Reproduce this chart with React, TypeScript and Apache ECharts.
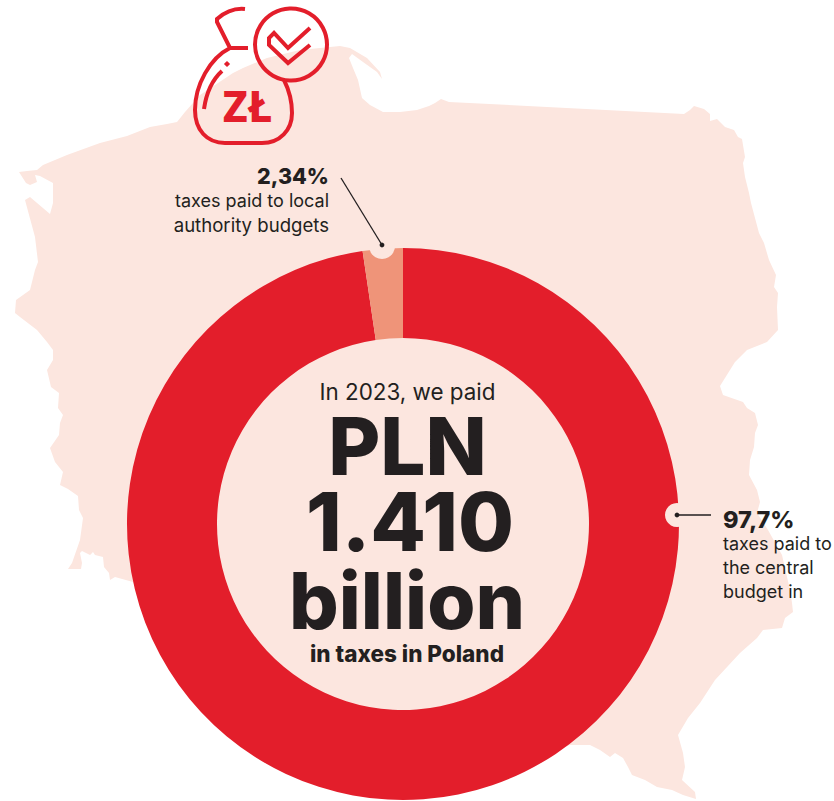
import React, { useEffect, useRef } from "react";
import * as echarts from "echarts";

const categories = ["taxes paid to the central budget in", "taxes paid to local authority budgets"];
const shares = [97.66, 2.34];
const shareLabels = ["97,7%", "2,34%"];
const rightNote = ["taxes paid to", "the central", "budget in"];
const leftNote = ["taxes paid to local", "authority budgets"];
const centerLines = ["In 2023, we paid", "PLN", "1.410", "billion", "in taxes in Poland"];

const RED = "#e31e2b";
const SALMON = "#ef9479";
const PALE = "#fce6df";
const INK = "#231f20";
const FONT = "Inter, 'Noto Sans', sans-serif";

const polandOutline: number[][] = [
  [19,172],[27,171],[37,170],[43,165],[67,155],[100,143],[127,136],[150,127],[167,124],[177,122],[185,112],
  [200,95],[233,73],[243,68],[267,58],[300,50],[340,46],[350,48],[367,58],[380,72],[382,79],[377,72],[363,62],[352,54],[349,58],[353,68],[358,80],[362,98],
  [370,105],[383,112],[400,112],[417,110],[429,106],[435,103],[441,99],[449,102],[684,114],[690,110],[694,106],
  [704,109],[710,114],[710,121],[717,119],[725,127],[734,130],[738,137],[742,139],[745,157],[743,163],[745,177],
  [749,193],[751,203],[759,233],[764,243],[769,260],[776,275],[774,287],[778,293],[777,307],[778,330],[767,342],
  [747,350],[735,362],[720,386],[723,395],[743,402],[747,408],[755,413],[758,425],[755,433],[754,447],[750,460],
  [749,475],[757,490],[760,502],[757,513],[768,530],[782,555],[790,590],[792,603],[793,612],[785,618],[782,628],
  [763,630],[757,638],[740,653],[715,680],[700,703],[688,718],[678,735],[683,753],[685,767],[682,780],[695,792],
  [696,799],[683,795],[672,790],[657,787],[645,780],[632,775],[628,767],[623,758],[615,753],[610,757],[600,750],
  [590,745],[570,745],[500,770],[403,760],[250,720],[160,640],[133,582],[115,577],[110,580],[109,573],[104,567],[103,557],[95,555],[93,552],[90,555],[82,551],
  [80,553],[82,563],[81,569],[68,569],[72,563],[80,540],[83,518],[79,510],[78,496],[68,489],[60,485],[63,472],
  [55,462],[50,448],[59,435],[60,423],[63,415],[58,408],[59,393],[51,387],[47,370],[53,360],[53,350],[47,342],
  [37,330],[20,317],[15,313],[16,300],[30,290],[35,270],[38,262],[35,237],[25,200],[30,197],[50,214],[53,203],
  [53,183],[40,176],[35,175],[37,182],[30,185],[26,183],
];

const bagPath =
  "M245 9C235 8 225 12 217 19L217 22L230 48L248 48M230 48C210 58 195 85 195 110C195 130 207 143 225 143L262 143C280 143 292 130 292 113C292 100 289 90 284 80M204 109C206 95 212 80 222 71";
const tickPath = "M310 28L288 48L274 33L269 38L269 45L288 63L310 45";

export default function App() {
  const ref = useRef<HTMLDivElement>(null);
  useEffect(() => {
    document.body.style.margin = "0";
    echarts.graphic.registerShape("bagShape", echarts.graphic.extendPath(bagPath, {}) as any);
    echarts.graphic.registerShape("tickShape", echarts.graphic.extendPath(tickPath, {}) as any);
    const chart = echarts.init(ref.current!, undefined, { renderer: "svg" });
    const txt = (x: number, y: number, text: string, size: number, weight: number, align = "center", fill = INK, fontFamily = FONT) => ({
      type: "text", z: 50, x, y,
      style: { text, x: 0, y: 0, fill, font: `${weight} ${size}px ${fontFamily}`, textAlign: align, textVerticalAlign: "middle" },
    });
    chart.setOption({
      animation: false,
      backgroundColor: "#ffffff",
      graphic: { elements: [
        { type: "polygon", z: -1, shape: { points: polandOutline }, style: { fill: PALE } },
        { type: "bagShape", z: 40, style: { fill: "none", stroke: RED, lineWidth: 4 } },
        { type: "circle", z: 41, shape: { cx: 291, cy: 44.5, r: 36 }, style: { fill: "none", stroke: RED, lineWidth: 4 } },
        { type: "tickShape", z: 41, style: { fill: "none", stroke: RED, lineWidth: 4 } },
        { type: "rect", z: 41, shape: { x: -2.2, y: -2.2, width: 4.4, height: 4.4 }, x: 227, y: 64, rotation: Math.PI / 4, style: { fill: RED } },
        txt(247.5, 105, "ZŁ", 42, 800, "center", RED, "'Noto Sans', sans-serif"),
        { type: "circle", z: 30, shape: { cx: 382, cy: 246, r: 13 }, style: { fill: PALE } },
        { type: "circle", z: 30, shape: { cx: 677, cy: 515, r: 12 }, style: { fill: PALE } },
        { type: "line", z: 31, shape: { x1: 341, y1: 178, x2: 382, y2: 245 }, style: { stroke: INK, lineWidth: 1.3 } },
        { type: "line", z: 31, shape: { x1: 677, y1: 515, x2: 711, y2: 515 }, style: { stroke: INK, lineWidth: 1.3 } },
        { type: "circle", z: 31, shape: { cx: 382, cy: 245, r: 2.4 }, style: { fill: INK } },
        { type: "circle", z: 31, shape: { cx: 677, cy: 515, r: 2.4 }, style: { fill: INK } },
        txt(329, 176, shareLabels[1], 21.5, 800, "right"),
        txt(329, 200, leftNote[0], 18, 400, "right"),
        txt(329, 225, leftNote[1], 18.6, 400, "right"),
        txt(723, 519, shareLabels[0], 23.5, 800, "left"),
        txt(723, 543, rightNote[0], 18, 400, "left"),
        txt(723, 567, rightNote[1], 18, 400, "left"),
        txt(723, 591, rightNote[2], 18, 400, "left"),
        txt(407.5, 391, centerLines[0], 22.4, 400),
        txt(407.5, 445, centerLines[1], 80, 800),
        txt(410, 522, centerLines[2], 81, 800),
        txt(407, 600, centerLines[3], 78, 800),
        txt(407, 653, centerLines[4], 22.5, 800),
      ] },
      series: [{
        type: "pie",
        center: [403, 524],
        radius: [186, 276],
        startAngle: 90,
        clockwise: true,
        silent: true,
        label: { show: false },
        labelLine: { show: false },
        data: categories.map((name, i) => ({ name, value: shares[i], itemStyle: { color: i === 0 ? RED : SALMON } })),
      }],
    });
    return () => chart.dispose();
  }, []);
  return <div ref={ref} style={{ width: 834, height: 801, position: "absolute", left: 0, top: 0 }} />;
}
